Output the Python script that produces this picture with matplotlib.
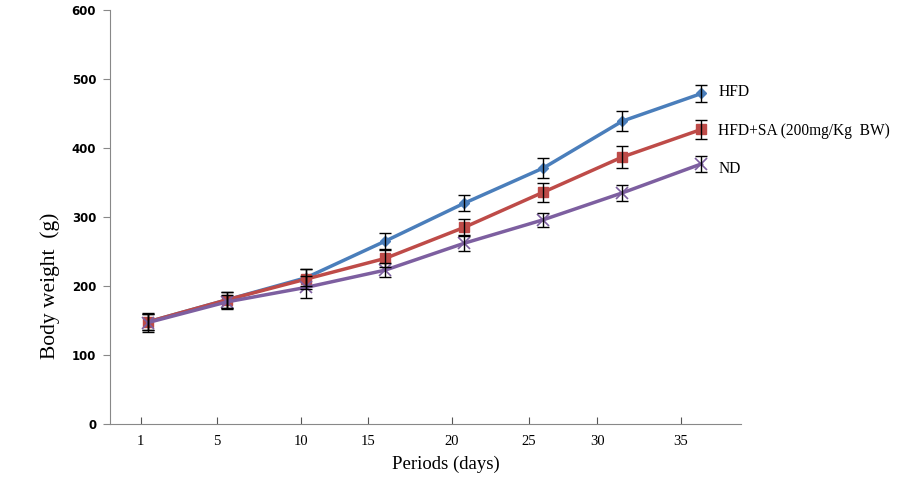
import matplotlib
matplotlib.use("Agg")
import matplotlib.pyplot as plt
import numpy as np

days = ["1", "5", "10", "15", "20", "25", "30", "35"]
hfd = [148, 180, 212, 265, 320, 371, 439, 479]
hfd_err = [12, 12, 12, 12, 12, 14, 14, 12]
hfd_sa = [148, 180, 210, 240, 285, 336, 387, 427]
hfd_sa_err = [12, 12, 14, 12, 12, 14, 16, 14]
nd = [147, 177, 198, 223, 262, 296, 335, 377]
nd_err = [14, 10, 16, 10, 12, 10, 12, 12]
labels = ["HFD", "HFD+SA (200mg/Kg  BW)", "ND"]

# tick label positions (in point-index units) as drawn in the reference
tick_pos = [-0.09, 0.87, 1.93, 2.78, 3.84, 4.82, 5.68, 6.74]

fig = plt.figure(figsize=(9.04, 4.86), dpi=100)
ax = fig.add_axes([0.1217, 0.1276, 0.698, 0.8518])
x = np.arange(len(days))

series = [
    (hfd, hfd_err, "#4a7ebb", "D", 5),
    (hfd_sa, hfd_sa_err, "#be4b48", "s", 7.5),
    (nd, nd_err, "#7d5fa0", "x", 8),
]
label_offsets = [1, -1.5, -3.5]
for (vals, errs, col, mk, ms), lab, dy in zip(series, labels, label_offsets):
    ax.plot(x, vals, color=col, lw=2.5, marker=mk, ms=ms, mew=1.2 if mk == "x" else 1,
            zorder=3)
    ax.errorbar(x, vals, yerr=errs, fmt="none", ecolor="black", elinewidth=1,
                capsize=4, capthick=1, zorder=4)
    ax.annotate(lab, (x[-1], vals[-1]), xytext=(12, dy), textcoords="offset points",
                va="center", ha="left", fontsize=11.2, family="Liberation Serif",
                annotation_clip=False)

ax.set_xlim(-0.48, 7.5)
ax.set_ylim(0, 600)
ax.set_yticks(range(0, 601, 100))
ax.set_xticks(tick_pos)
ax.set_xticklabels(days, family="Liberation Serif", fontsize=10.5)
for t in ax.get_yticklabels():
    t.set_fontweight("bold")
    t.set_fontsize(8.5)
    t.set_family("DejaVu Sans")
ax.tick_params(axis="x", direction="in", length=5, color="#555", pad=8)
ax.tick_params(axis="y", direction="out", length=5, color="#888", pad=5)
for s in ["top", "right"]:
    ax.spines[s].set_visible(False)
for s in ["left", "bottom"]:
    ax.spines[s].set_color("#888")
ax.set_ylabel("Body weight  (g)", family="Liberation Serif", fontsize=15.5)
ax.yaxis.set_label_coords(-0.079, 0.333)
ax.set_xlabel("Periods (days)", family="Liberation Serif", fontsize=13.5)
ax.xaxis.set_label_coords(0.532, -0.077)

fig.savefig("out.png", dpi=100)
